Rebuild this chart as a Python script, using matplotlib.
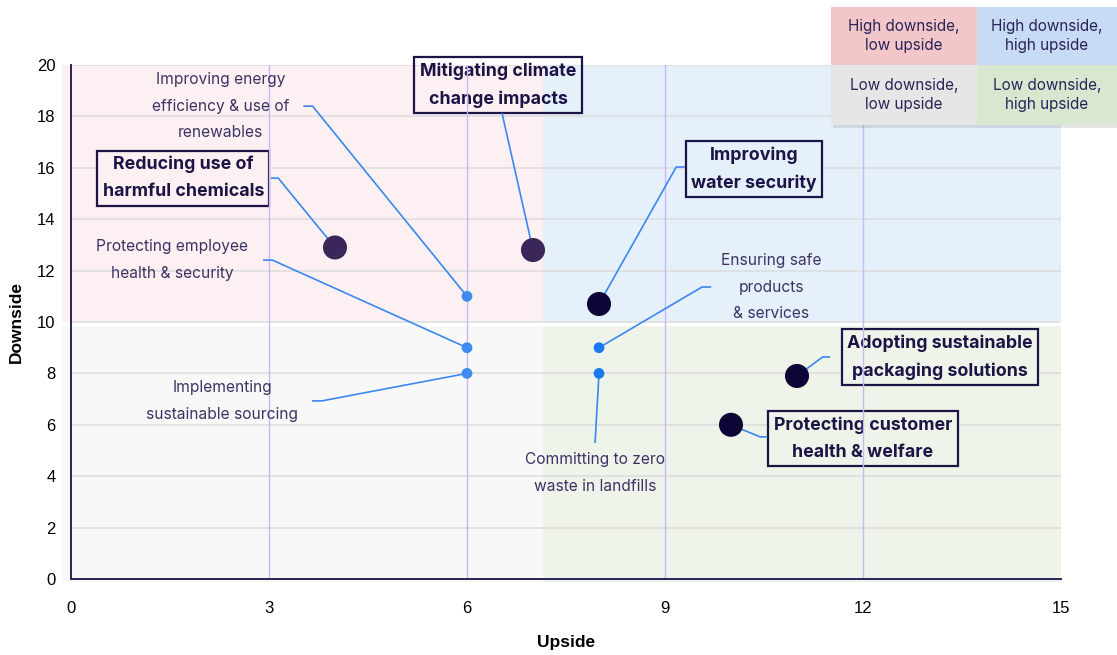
import numpy as np
import matplotlib.pyplot as plt
from matplotlib.patches import Rectangle

# ──────────────────────────────────────────────────────────────────────────────
# DATA
# ──────────────────────────────────────────────────────────────────────────────

labels = [
    "Improving energy\nefficiency & use of\nrenewables",
    "Reducing use of\nharmful chemicals",
    "Protecting employee\nhealth & security",
    "Implementing\nsustainable sourcing",
    "Mitigating climate\nchange impacts",
    "Improving\nwater security",
    "Ensuring safe\nproducts\n& services",
    "Committing to zero\nwaste in landfills",
    "Adopting sustainable\npackaging solutions",
    "Protecting customer\nhealth & welfare",
]
upside   = [6, 4, 6, 6, 7, 8, 8, 8, 11, 10]
downside = [11, 12.9, 9, 8, 12.8, 10.7, 9, 8, 7.9, 6]
priority = [False, True, False, False, True, True, False, False, True, True]

legend_text = [["High downside,\nlow upside", "High downside,\nhigh upside"],
               ["Low downside,\nlow upside", "Low downside,\nhigh upside"]]

x_ticks = [0, 3, 6, 9, 12, 15]
y_ticks = [0, 2, 4, 6, 8, 10, 12, 14, 16, 18, 20]

# ──────────────────────────────────────────────────────────────────────────────
# STYLE / LAYOUT
# ──────────────────────────────────────────────────────────────────────────────

x_split, y_split = 7.15, 10
q_colors = {"tl": "#fcf0f2", "tr": "#e6f0fb", "bl": "#f8f8f8", "br": "#eef4e9"}
leg_colors = [["#f3c7ca", "#c7dbf4"], ["#e6e6e6", "#d9e7d1"]]

navy      = "#1c1445"
txt_col   = "#3a3363"
line_blue = "#3b87f0"
big_cols  = ["#3b2659", "#3b2659", "#0c0535", "#0c0535", "#0c0535"]

# label placement: (text x, text y, anchor x, anchor y, elbow x) in data units
label_pos = [
    (2.27, 18.40, 3.52, 18.40, 3.66),
    (1.70, 15.60, 3.03, 15.60, 3.14),
    (1.53, 12.41, 2.91, 12.41, 3.05),
    (2.29, 6.93, 3.65, 6.93, 3.80),
    (6.47, 19.22, 6.53, 18.13, None),
    (10.35, 15.95, 9.30, 16.03, 9.17),
    (10.61, 11.36, 9.70, 11.36, 9.56),
    (7.94, 4.12, 7.94, 5.29, None),
    (13.17, 8.64, 11.50, 8.64, 11.39),
    (12.00, 5.45, 10.55, 5.53, 10.44),
]

ann_font = "Inter"

fig = plt.figure(figsize=(11.17, 6.55), dpi=100)
ax = fig.add_axes([71 / 1117, 76 / 655, 990 / 1117, 514 / 655])
ax.set_xlim(0, 15)
ax.set_ylim(0, 20)

# quadrant backgrounds
ax.add_patch(Rectangle((-0.13, y_split), x_split + 0.13, 20 - y_split,
                       color=q_colors["tl"], zorder=0, clip_on=False, lw=0))
ax.add_patch(Rectangle((x_split, y_split), 15 - x_split, 20 - y_split,
                       color=q_colors["tr"], zorder=0, clip_on=False, lw=0))
ax.add_patch(Rectangle((-0.13, -0.1), x_split + 0.13, y_split - 0.15 + 0.1,
                       color=q_colors["bl"], zorder=0, clip_on=False, lw=0))
ax.add_patch(Rectangle((x_split, -0.1), 15 - x_split, y_split - 0.15 + 0.1,
                       color=q_colors["br"], zorder=0, clip_on=False, lw=0))

# grid
for yv in y_ticks[1:]:
    ax.axhline(yv, color="#dcdcdc", lw=1.1, zorder=1)
for xv in x_ticks[1:-1]:
    ax.axvline(xv, color="#c6b9fb", lw=1.0, zorder=3)

for s in ["top", "right"]:
    ax.spines[s].set_visible(False)
for s in ["left", "bottom"]:
    ax.spines[s].set_color("#2a2456")
    ax.spines[s].set_linewidth(1.4)
    ax.spines[s].set_zorder(4)

ax.set_xticks(x_ticks)
ax.set_yticks(y_ticks)
ax.tick_params(length=0, labelsize=12)
ax.tick_params(axis="x", pad=16)
ax.tick_params(axis="y", pad=11)
for t in ax.get_xticklabels() + ax.get_yticklabels():
    t.set_family("Liberation Sans")
ax.set_xlabel("Upside", fontsize=12.5, fontweight="bold", family="Liberation Sans")
ax.set_ylabel("Downside", fontsize=12.5, fontweight="bold", family="Liberation Sans")
ax.xaxis.set_label_coords(0.5, -0.1245)
ax.xaxis.label.set_va("center")
ax.yaxis.set_label_coords(-0.0556, 0.5)
ax.yaxis.label.set_va("center")


def quad_color(x, y):
    if y >= y_split:
        return q_colors["tl"] if x < x_split else q_colors["tr"]
    return q_colors["bl"] if x < x_split else q_colors["br"]


# connectors and labels
for i, lab in enumerate(labels):
    tx, ty, axx, ayy, ex = label_pos[i]
    xs = [upside[i]]
    ys = [downside[i]]
    if ex is not None:
        xs.append(ex)
        ys.append(ayy)
    xs.append(axx)
    ys.append(ayy)
    ax.plot(xs, ys, color=line_blue, lw=1.2, zorder=5, solid_capstyle="butt")

    if priority[i]:
        face = "none" if i == 4 else quad_color(tx, ty)
        ax.text(tx, ty, lab, ha="center", va="center", fontsize=12.8, family=ann_font,
                fontweight="bold", color=navy, linespacing=1.75, zorder=2,
                bbox=dict(boxstyle="square,pad=0.3", fc=face, ec=navy, lw=1.6))
    else:
        ax.text(tx, ty, lab, ha="center", va="center", fontsize=11.2, family=ann_font,
                color=txt_col, linespacing=1.95, zorder=6)

# points
pr = np.array(priority)
ux = np.array(upside)
dy = np.array(downside)
ax.scatter(ux[~pr], dy[~pr], s=60, color=["#3d8af0", "#3d8af0", "#3d8af0", "#1a78f0", "#1a78f0"],
           zorder=7, lw=0)
ax.scatter(ux[pr], dy[pr], s=300, color=big_cols, zorder=7, lw=0)

# legend grid (top right)
leg = fig.add_axes([831 / 1117, (655 - 125) / 655, 286 / 1117, 118 / 655])
leg.set_xlim(0, 286)
leg.set_ylim(118, 0)
leg.axis("off")
leg.add_patch(Rectangle((2, 3), 286, 118, color="#000000", alpha=0.10, lw=0,
                        zorder=0, clip_on=False))
cw = [146, 140]
ch = [58, 60]
for r in range(2):
    for c in range(2):
        x0 = 0 if c == 0 else cw[0]
        y0 = 0 if r == 0 else ch[0]
        leg.add_patch(Rectangle((x0, y0), cw[c], ch[r], color=leg_colors[r][c], lw=0, zorder=1))
        leg.text(x0 + cw[c] / 2, y0 + ch[r] / 2, legend_text[r][c], ha="center", va="center",
                 fontsize=11, family=ann_font, color="#2a2456", linespacing=1.4, zorder=2)

fig.savefig("out.png", dpi=100)
